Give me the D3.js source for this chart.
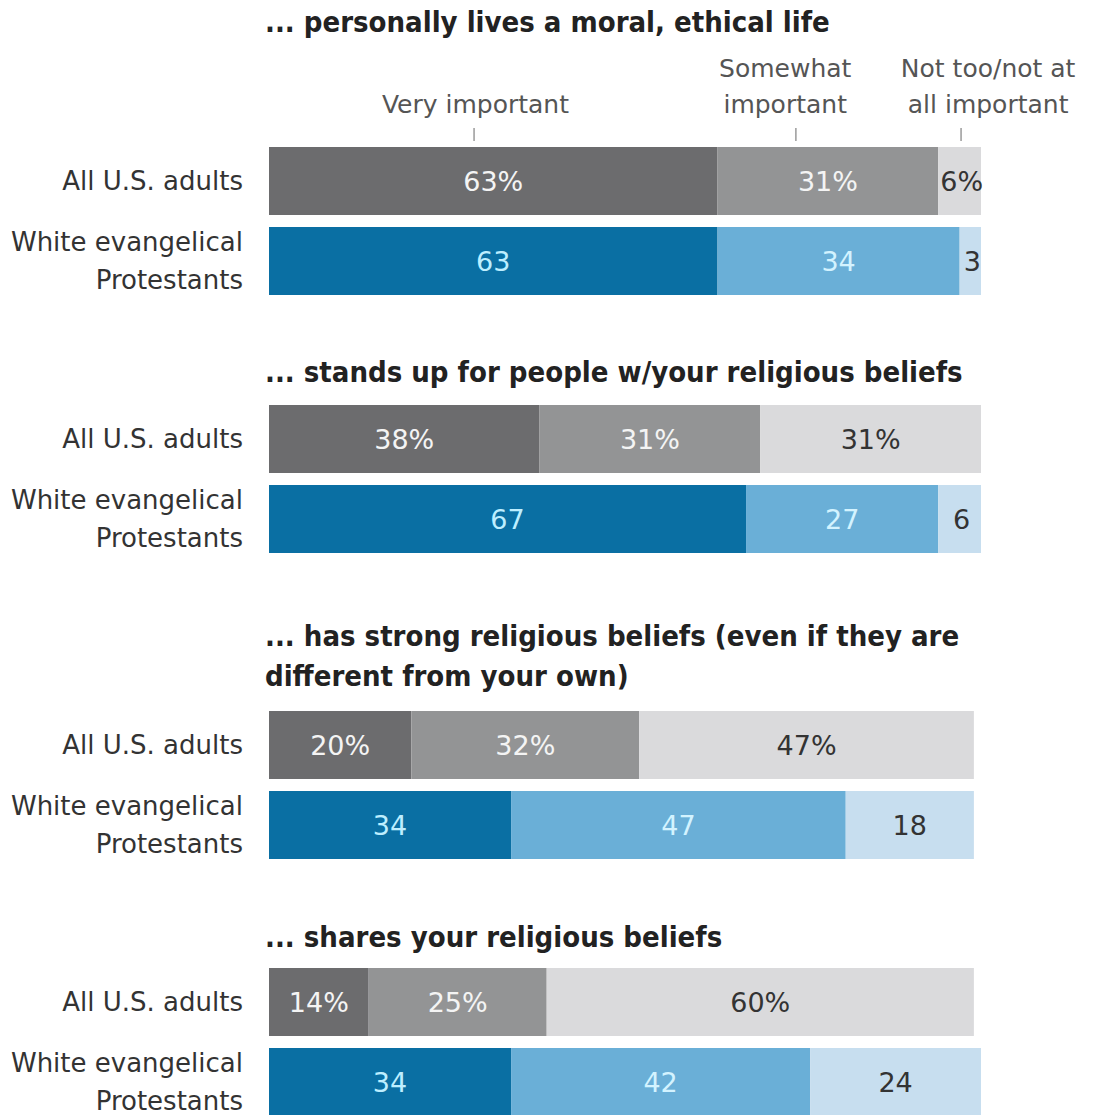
<!DOCTYPE html>
<html>
<head>
<meta charset="utf-8">
<script src="https://cdn.jsdelivr.net/npm/d3@7"></script>
<style>
  html, body { margin: 0; padding: 0; background: #ffffff; }
  svg { display: block; }
</style>
</head>
<body>
<svg id="chart" width="1094" height="1115"></svg>
<script>
// ---------------- DATA ----------------
const questions = [
  ["... personally lives a moral, ethical life"],
  ["... stands up for people w/your religious beliefs"],
  ["... has strong religious beliefs (even if they are", "different from your own)"],
  ["... shares your religious beliefs"]
];
const groups = ["All U.S. adults", "White evangelical Protestants"];
const groupLines = [["All U.S. adults"], ["White evangelical", "Protestants"]];
const responses = ["Very important", "Somewhat important", "Not too/not at all important"];
const legendLines = [["Very important"], ["Somewhat", "important"], ["Not too/not at", "all important"]];

// values per question: [all adults, white evangelical]
const veryImportant     = [[63, 63], [38, 67], [20, 34], [14, 34]];
const somewhatImportant = [[31, 34], [31, 27], [32, 47], [25, 42]];
const notImportant      = [[6, 3],   [31, 6],  [47, 18], [60, 24]];

// ---------------- LAYOUT ----------------
const svg = d3.select("#chart");
const barLeft = 269, barRight = 981;
const x = d3.scaleLinear().domain([0, 100]).range([barLeft, barRight]);

const panelTitleY = [[32], [382], [646, 686], [947]];
const panelBarTop = [147, 405, 711, 968];

const row = d3.scaleBand().domain(groups).range([0, 148]).paddingInner(0.15).paddingOuter(0);

const grayColors = ["#6c6c6e", "#939495", "#dadadc"];
const blueColors = ["#0a6fa3", "#6aafd7", "#c7deef"];
const grayText = ["#f4f4f4", "#f4f4f4", "#333333"];
const blueText = ["#bdeeff", "#d3f3ff", "#333333"];

const labelFont = "'DejaVu Sans', 'Liberation Sans', sans-serif";
const titleFont = "'DejaVu Sans Condensed', 'Liberation Sans Narrow', 'Liberation Sans', sans-serif";

// Legend (above first panel)
const legendCenters = [29, 72.5, 101];   // in % units of x-scale
const tickAt = [28.8, 74, 97.2];
const legend = svg.append("g").attr("class", "legend");
legendLines.forEach((lines, i) => {
  const t = legend.append("text")
    .attr("x", x(legendCenters[i]))
    .attr("text-anchor", "middle")
    .attr("font-family", labelFont)
    .attr("font-size", 25)
    .attr("fill", "#555555");
  const baseY = lines.length === 1 ? 113 : 77;
  lines.forEach((ln, j) => {
    t.append("tspan").attr("x", x(legendCenters[i])).attr("y", baseY + j * 36).text(ln);
  });
  legend.append("line")
    .attr("x1", x(tickAt[i])).attr("x2", x(tickAt[i]))
    .attr("y1", 128).attr("y2", 141)
    .attr("stroke", "#9a9a9a").attr("stroke-width", 1.5);
});

// Panels
questions.forEach((titleLines, qi) => {
  const g = svg.append("g").attr("class", "panel");
  titleLines.forEach((ln, li) => {
    g.append("text")
      .attr("x", 265)
      .attr("y", panelTitleY[qi][li])
      .attr("font-family", titleFont)
      .attr("font-weight", "bold")
      .attr("font-size", 29)
      .attr("fill", "#222222")
      .text(ln);
  });

  groups.forEach((grp, gi) => {
    const vals = [veryImportant[qi][gi], somewhatImportant[qi][gi], notImportant[qi][gi]];
    const colors = gi === 0 ? grayColors : blueColors;
    const tcol = gi === 0 ? grayText : blueText;
    const y0 = panelBarTop[qi] + row(grp);
    const bh = row.bandwidth();
    let cum = 0;
    const segs = vals.map((v, k) => {
      const s = { start: cum, end: cum + v, v, k };
      cum += v;
      return s;
    });
    g.selectAll(null).data(segs).enter().append("rect")
      .attr("x", d => x(d.start))
      .attr("y", y0)
      .attr("width", d => x(d.end) - x(d.start))
      .attr("height", bh)
      .attr("fill", d => colors[d.k]);
    g.selectAll(null).data(segs).enter().append("text")
      .attr("x", d => (x(d.start) + x(d.end)) / 2 + (d.v < 8 ? 2 : 0))
      .attr("y", y0 + bh / 2 + 10)
      .attr("text-anchor", "middle")
      .attr("font-family", labelFont)
      .attr("font-size", 27)
      .attr("fill", d => tcol[d.k])
      .text(d => gi === 0 ? d.v + "%" : d.v);

    // category label
    const lines = groupLines[gi];
    const cy = y0 + bh / 2;
    lines.forEach((ln, li) => {
      g.append("text")
        .attr("x", 243)
        .attr("y", cy + 9 + (li - (lines.length - 1) / 2) * 38)
        .attr("text-anchor", "end")
        .attr("font-family", labelFont)
        .attr("font-size", 26)
        .attr("fill", "#333333")
        .text(ln);
    });
  });
});
</script>
</body>
</html>
